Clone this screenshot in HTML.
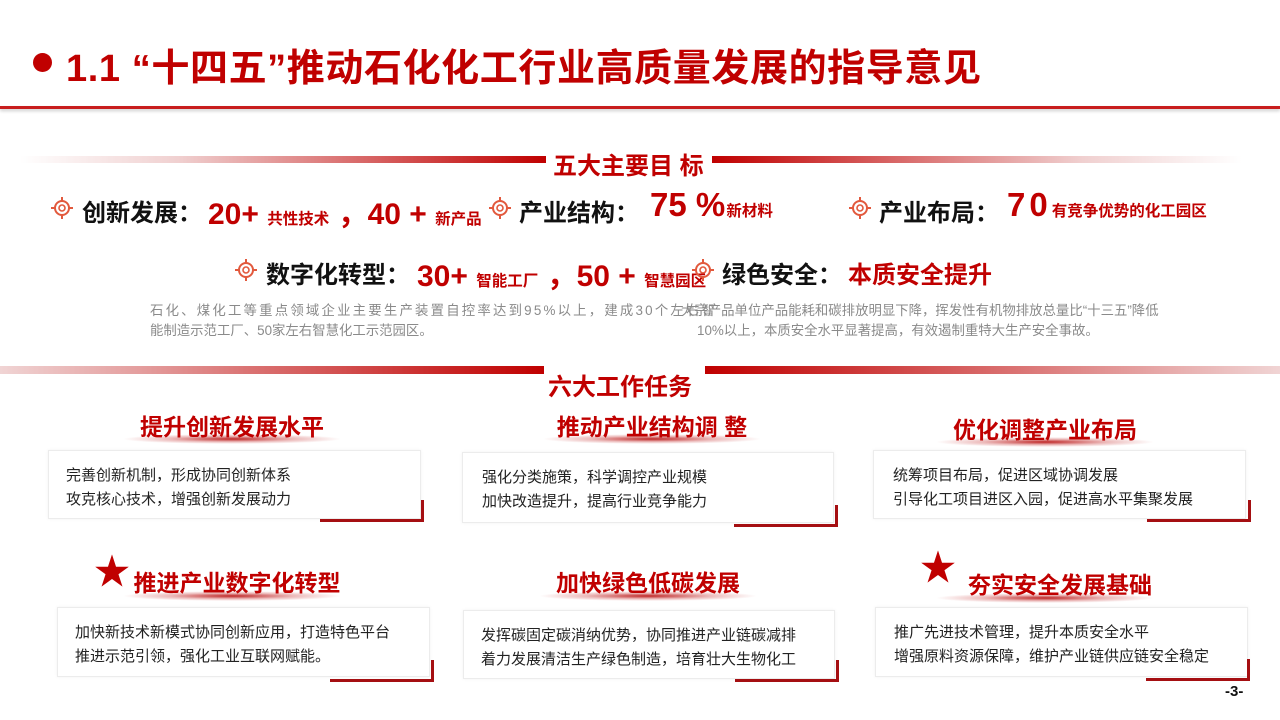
<!DOCTYPE html>
<html><head><meta charset="utf-8">
<style>
*{margin:0;padding:0;box-sizing:border-box}
body{width:1280px;height:720px;background:#fff;position:relative;overflow:hidden;font-family:"Liberation Sans","Noto Sans CJK SC",sans-serif}
.a{position:absolute;white-space:nowrap}
.red{color:#c00000}
.b{font-weight:bold}
.card{position:absolute;background:#fff;border:1px solid #ececec;box-shadow:0 0 3px rgba(0,0,0,0.06);font-size:15px;color:#222;line-height:24px;padding-top:13px}
.cor{position:absolute;border-right:3px solid #a50f12;border-bottom:3px solid #a50f12;width:104px;height:22px}
.h{position:absolute;font-size:23px;font-weight:bold;color:#c00000;white-space:nowrap;transform:translateX(-50%)}
.glow{position:absolute;height:10px;width:220px;transform:translateX(-50%);background:radial-gradient(ellipse at center,rgba(180,0,0,0.85) 0%,rgba(200,60,60,0.35) 40%,rgba(255,255,255,0) 70%)}
.ic{position:absolute;width:22px;height:22px}
.g{position:absolute;font-size:13.4px;color:#8a8a8a;white-space:nowrap}
.s{font-size:15.5px}
</style></head><body>
<div class="a" style="left:33px;top:53px;width:19px;height:19px;border-radius:50%;background:#c00000"></div>
<div class="a red b" style="left:66px;top:37px;font-size:38px;letter-spacing:0.6px">1.1 “十四五”推动石化化工行业高质量发展的指导意见</div>
<div class="a" style="left:0;top:106px;width:1280px;height:3px;background:#c81e1e;box-shadow:0 2px 3px rgba(0,0,0,0.2)"></div>

<div class="a" style="left:20px;top:156px;width:526px;height:7px;background:linear-gradient(to right,rgba(255,255,255,0),#f0d0d0 30%,#c00000)"></div>
<div class="a" style="left:712px;top:156px;width:530px;height:7px;background:linear-gradient(to left,rgba(255,255,255,0),#f0d0d0 30%,#c00000)"></div>
<div class="a red b" style="left:553px;top:146px;font-size:24px">五大主要目 标</div>

<svg class="ic" style="left:51px;top:197px" viewBox="0 0 22 22"><circle cx="11" cy="11" r="7" fill="none" stroke="#e2593d" stroke-width="2"/><circle cx="11" cy="11" r="3" fill="none" stroke="#e2593d" stroke-width="1.6"/><path d="M11 0v4M11 18v4M0 11h4M18 11h4" stroke="#e2593d" stroke-width="2"/></svg>
<div class="a b" style="left:82px;top:193px;font-size:24px;color:#111">创新发展：</div>
<div class="a red b" style="left:208px;top:189px;font-size:30px">20+ <span class="s">共性技术</span> ，40 + <span class="s">新产品</span></div>

<svg class="ic" style="left:489px;top:197px" viewBox="0 0 22 22"><circle cx="11" cy="11" r="7" fill="none" stroke="#e2593d" stroke-width="2"/><circle cx="11" cy="11" r="3" fill="none" stroke="#e2593d" stroke-width="1.6"/><path d="M11 0v4M11 18v4M0 11h4M18 11h4" stroke="#e2593d" stroke-width="2"/></svg>
<div class="a b" style="left:519px;top:193px;font-size:24px;color:#111">产业结构：</div>
<div class="a red b" style="left:650px;top:186px;font-size:33px">75 % <span class="s" style="margin-left:-8px">新材料</span></div>

<svg class="ic" style="left:849px;top:197px" viewBox="0 0 22 22"><circle cx="11" cy="11" r="7" fill="none" stroke="#e2593d" stroke-width="2"/><circle cx="11" cy="11" r="3" fill="none" stroke="#e2593d" stroke-width="1.6"/><path d="M11 0v4M11 18v4M0 11h4M18 11h4" stroke="#e2593d" stroke-width="2"/></svg>
<div class="a b" style="left:879px;top:193px;font-size:24px;color:#111">产业布局：</div>
<div class="a red b" style="left:1007px;top:186px;font-size:33px;letter-spacing:4px">70<span class="s" style="letter-spacing:0">有竞争优势的化工园区</span></div>

<svg class="ic" style="left:235px;top:259px" viewBox="0 0 22 22"><circle cx="11" cy="11" r="7" fill="none" stroke="#e2593d" stroke-width="2"/><circle cx="11" cy="11" r="3" fill="none" stroke="#e2593d" stroke-width="1.6"/><path d="M11 0v4M11 18v4M0 11h4M18 11h4" stroke="#e2593d" stroke-width="2"/></svg>
<div class="a b" style="left:266px;top:255px;font-size:24px;color:#111">数字化转型：</div>
<div class="a red b" style="left:417px;top:251px;font-size:30px">30+ <span class="s">智能工厂</span> ，50 + <span class="s">智慧园区</span></div>

<svg class="ic" style="left:692px;top:259px" viewBox="0 0 22 22"><circle cx="11" cy="11" r="7" fill="none" stroke="#e2593d" stroke-width="2"/><circle cx="11" cy="11" r="3" fill="none" stroke="#e2593d" stroke-width="1.6"/><path d="M11 0v4M11 18v4M0 11h4M18 11h4" stroke="#e2593d" stroke-width="2"/></svg>
<div class="a b" style="left:722px;top:255px;font-size:24px;color:#111">绿色安全：</div>
<div class="a red b" style="left:848px;top:255px;font-size:24px">本质安全提升</div>

<div class="g" style="left:150px;top:299px;letter-spacing:2.2px">石化、煤化工等重点领域企业主要生产装置自控率达到95%以上，建成30个左右智</div>
<div class="g" style="left:150px;top:319px">能制造示范工厂、50家左右智慧化工示范园区。</div>
<div class="g" style="left:681px;top:299px">大宗产品单位产品能耗和碳排放明显下降，挥发性有机物排放总量比“十三五”降低</div>
<div class="g" style="left:697px;top:319px">10%以上，本质安全水平显著提高，有效遏制重特大生产安全事故。</div>

<div class="a" style="left:0;top:366px;width:544px;height:8px;background:linear-gradient(to right,#f0d4d4,#c00000)"></div>
<div class="a" style="left:705px;top:366px;width:575px;height:8px;background:linear-gradient(to left,#f0d4d4,#c00000)"></div>
<div class="a red b" style="left:548px;top:367px;font-size:24px">六大工作任务</div>

<div class="glow" style="left:232px;top:434px"></div>
<div class="h" style="left:232px;top:408px">提升创新发展水平</div>
<div class="glow" style="left:652px;top:434px"></div>
<div class="h" style="left:652px;top:408px">推动产业结构调 整</div>
<div class="glow" style="left:1045px;top:437px"></div>
<div class="h" style="left:1045px;top:411px">优化调整产业布局</div>

<div class="glow" style="left:232px;top:591px"></div>
<div class="h" style="left:232px;top:564px;padding-left:10px">推进产业数字化转型</div>
<div class="glow" style="left:648px;top:591px"></div>
<div class="h" style="left:648px;top:564px">加快绿色低碳发展</div>
<div class="glow" style="left:1045px;top:593px"></div>
<div class="h" style="left:1060px;top:566px">夯实安全发展基础</div>
<div class="a red" style="left:94px;top:552px;font-size:36px;line-height:40px">★</div>
<div class="a red" style="left:920px;top:548px;font-size:36px;line-height:40px">★</div>

<div class="card" style="left:48px;top:450px;width:373px;height:69px;padding-left:17px">完善创新机制，形成协同创新体系<br>攻克核心技术，增强创新发展动力</div>
<div class="cor" style="left:320px;top:500px"></div>
<div class="card" style="left:462px;top:452px;width:372px;height:71px;padding-left:19px">强化分类施策，科学调控产业规模<br>加快改造提升，提高行业竞争能力</div>
<div class="cor" style="left:734px;top:505px"></div>
<div class="card" style="left:873px;top:450px;width:373px;height:69px;padding-left:19px">统筹项目布局，促进区域协调发展<br>引导化工项目进区入园，促进高水平集聚发展</div>
<div class="cor" style="left:1147px;top:500px"></div>

<div class="card" style="left:57px;top:607px;width:373px;height:70px;padding-left:17px">加快新技术新模式协同创新应用，打造特色平台<br>推进示范引领，强化工业互联网赋能。</div>
<div class="cor" style="left:330px;top:660px"></div>
<div class="card" style="left:463px;top:610px;width:372px;height:69px;padding-left:17px">发挥碳固定碳消纳优势，协同推进产业链碳减排<br>着力发展清洁生产绿色制造，培育壮大生物化工</div>
<div class="cor" style="left:735px;top:660px"></div>
<div class="card" style="left:875px;top:607px;width:373px;height:70px;padding-left:18px">推广先进技术管理，提升本质安全水平<br>增强原料资源保障，维护产业链供应链安全稳定</div>
<div class="cor" style="left:1146px;top:659px"></div>

<div class="a b" style="left:1225px;top:683px;font-size:15px;color:#111">-3-</div>
</body></html>
